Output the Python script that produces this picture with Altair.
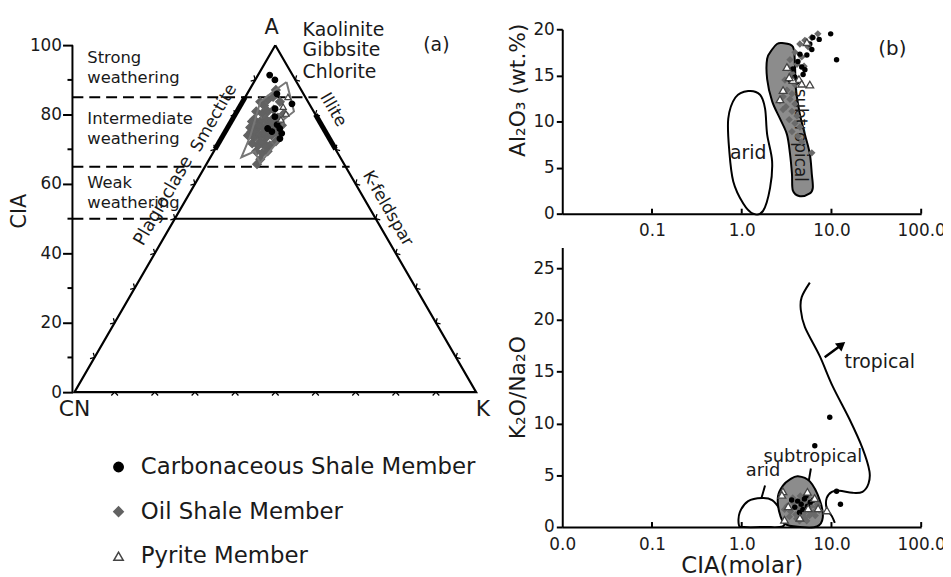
import altair as alt
import pandas as pd

FONT = "DejaVu Sans"
INK = "#1a1a1a"
OIL = "#626262"
OIL_R = "#6a6a6a"
TRI = "#444444"
FIELD = "#8c8c8c"
MEMBERS = ["Carbonaceous Shale Member", "Oil Shale Member", "Pyrite Member"]

# ---------------- (a) A-CN-K diagram : CIA (= A %) and K (%) ----------------
carb_cia = [91.4, 90.0, 86.0, 83.1, 81.7, 79.4, 77.1, 76.0, 76.0, 74.6, 73.1, 75.1]
carb_k = [2.9, 4.9, 7.4, 12.6, 9.1, 10.2, 11.9, 10.1, 13.1, 14.3, 14.6, 11.6]
oil_cia = [83.7, 82.6, 84.3, 85.1, 80.9, 80.3, 80.9, 81.4, 78.6, 78.0, 78.6, 78.0, 79.1,
           76.3, 75.7, 76.3, 75.7, 76.3, 74.0, 73.4, 74.0, 73.4, 74.0, 74.6, 71.7, 71.1,
           71.7, 71.1, 72.3, 69.4, 68.9, 69.4, 67.1, 65.7, 76.9, 80.3, 83.7, 87.1, 75.1,
           70.9, 76.9, 74.6, 77.4, 75.1, 72.3, 79.1, 76.9, 78.0]
oil_k = [4.4, 5.9, 6.0, 6.9, 4.8, 6.6, 7.7, 8.9, 5.4, 7.2, 8.4, 10.1, 11.1,
         5.6, 7.4, 8.6, 10.3, 11.5, 6.2, 8.0, 9.2, 11.0, 12.1, 13.3, 8.4, 10.2,
         11.4, 13.1, 14.0, 10.5, 12.3, 13.4, 12.7, 12.6, 13.2, 12.0, 9.3, 6.6, 6.5,
         12.0, 7.3, 9.9, 9.9, 7.2, 10.1, 10.1, 9.3, 5.2]
pyr_cia = [82.3, 80.3, 85.1, 78.6]
pyr_k = [10.8, 12.5, 10.6, 12.1]
env_cia = [89.4, 80.9, 78.6, 72.3, 69.4, 66.0, 69.4, 67.7, 73.7, 79.4, 83.7, 86.6, 89.4]
env_k = [8.1, 14.2, 12.8, 14.5, 13.9, 13.2, 10.2, 7.7, 6.9, 5.5, 4.4, 6.1, 8.1]
outline_cia = [100, 0, 0, 100]          # A -> CN -> K -> A
outline_k = [0, 0, 100, 0]
tick_levels = [10, 20, 30, 40, 50, 60, 70, 80, 90]
# weathering limits (CIA) and their horizontal extent (position along CN-K)
wl_cia = [85, 65, 50]
wl_from = [-0.5, -0.5, -0.5]
wl_to = [60.5, 68.5, 25.0]
solid_cia = [50]
solid_from = [25.0]
solid_to = [75.0]
# mineral segments: smectite on CN-A, illite on A-K
seg_cia1 = [70, 70]
seg_cia2 = [85, 80]
seg_k1 = [0, 30]
seg_k2 = [0, 20]
axis_minor = [10, 30, 50, 70, 90]

# ---------------- (b) upper: Al2O3 vs CIA(molar) ----------------
aridT_x = [1.18, 1.60, 1.82, 1.92, 2.18, 2.07, 1.73, 1.34, 1.04, 0.805, 0.727, 0.708, 0.85]
aridT_y = [13.3, 12.9, 11.4, 8.6, 5.7, 2.8, 0.3, 0.0, 1.1, 3.5, 6.8, 10.3, 12.6]
subT_x = [2.81, 3.72, 3.92, 4.02, 4.45, 5.06, 5.74, 6.04, 6.20, 5.74, 4.45, 3.72, 3.63,
          3.45, 3.19, 2.67, 2.18, 1.92, 1.92, 2.18, 2.47]
subT_y = [18.5, 18.1, 16.1, 13.5, 10.8, 8.6, 6.5, 4.3, 2.8, 2.2, 1.9, 2.5, 4.3,
          6.5, 8.6, 10.3, 12.2, 14.6, 16.8, 17.8, 18.4]
carbT_x = [9.8, 11.4, 6.20, 6.04, 5.32, 5.06, 4.83, 4.23, 4.45, 5.74, 3.92, 3.72, 4.66, 4.13, 3.45, 7.3]
carbT_y = [19.5, 16.7, 19.1, 17.8, 17.2, 15.6, 15.1, 16.5, 17.3, 18.4, 14.8, 15.7, 15.9, 14.3, 14.5, 18.9]
oilT_x = [7.05, 6.04, 5.06, 4.45, 5.5, 3.92, 4.66, 3.45, 4.13, 3.30, 4.95, 3.63, 3.03, 3.92, 3.19,
          3.63, 2.89, 3.45, 3.92, 3.11, 3.63, 4.13, 3.38, 3.92, 4.45, 3.63, 4.23, 4.66, 6.04, 2.67, 2.89]
oilT_y = [19.5, 19.1, 18.8, 18.4, 18.1, 17.5, 17.0, 16.7, 16.2, 15.8, 16.0, 15.2, 14.5, 14.0, 13.4,
          13.0, 12.7, 12.4, 11.9, 11.6, 11.1, 10.6, 10.2, 9.8, 9.4, 8.9, 8.4, 7.8, 6.6, 12.2, 11.3]
pyrT_x = [3.19, 5.74, 4.34, 3.72, 2.89, 2.67, 3.38, 5.32, 4.66]
pyrT_y = [15.9, 14.0, 14.6, 14.5, 13.4, 12.4, 14.8, 18.6, 14.1]

# ---------------- (b) lower: K2O/Na2O vs CIA(molar) ----------------
aridB_x = [0.93, 0.95, 1.18, 1.69, 2.18, 2.67, 3.0, 2.85, 1.8, 1.05]
aridB_y = [0.2, 1.4, 2.5, 2.8, 2.6, 1.7, 0.7, 0.05, 0.0, 0.0]
subB_x = [4.23, 5.74, 7.41, 8.0, 6.9, 4.45, 3.03, 2.61, 2.54, 2.88, 3.45]
subB_y = [4.9, 4.4, 2.6, 0.9, 0.05, 0.0, 0.3, 1.5, 3.0, 4.0, 4.6]
trop_x = [5.74, 4.66, 4.55, 5.06, 7.41, 10.3, 15.9, 22.2, 26.5, 25.9, 22.2, 17.2, 12.3, 10.1, 8.85, 8.85, 10.1, 10.9]
trop_y = [23.6, 22.2, 21.0, 19.3, 16.5, 13.6, 10.4, 7.6, 5.4, 4.2, 3.4, 3.3, 3.5, 3.4, 2.8, 1.8, 1.05, 0.4]
arrow_x = [8.41, 13.0]
arrow_y = [16.4, 17.6]
lead_x1 = [1.66, 5.6]
lead_y1 = [2.8, 4.5]
lead_x2 = [1.82, 5.9]
lead_y2 = [4.0, 5.65]
carbB_x = [9.57, 6.52, 11.4, 12.6, 4.2, 4.6, 5.0, 3.9, 5.4, 4.4, 5.8, 4.8, 3.6, 5.2, 6.3]
carbB_y = [10.6, 7.85, 3.45, 2.2, 2.5, 2.2, 2.7, 1.9, 2.0, 1.4, 2.4, 1.7, 2.6, 3.0, 2.6]
oilB_x = [3.2, 3.5, 3.8, 4.0, 4.3, 4.6, 4.9, 5.2, 5.5, 5.9, 6.3, 6.8, 7.3, 3.4, 4.1, 5.0, 5.7,
          6.1, 4.5, 3.7, 6.6, 7.0, 3.0, 4.8, 5.4, 5.3, 4.4]
oilB_y = [2.0, 1.5, 2.3, 1.2, 1.8, 2.6, 1.3, 2.2, 1.6, 2.0, 1.4, 1.9, 1.6, 1.0, 0.8, 0.9, 1.1,
          2.5, 3.0, 2.8, 1.1, 2.2, 1.7, 2.0, 2.9, 0.6, 0.6]
pyrB_x = [2.88, 5.4, 6.5, 3.30, 5.5, 8.9, 3.0, 4.45, 7.1, 2.8]
pyrB_y = [3.45, 3.4, 2.8, 2.0, 1.8, 1.6, 0.7, 0.9, 1.8, 3.1]
x_ticks = [0.1, 1, 10, 100]


# ======================= panel (a) =======================
def tern(cia, k, **extra):
    df = pd.DataFrame({"cia": cia, "k": k, **extra})
    df["tx"] = df["k"] + df["cia"] / 2.0
    return df


LX = alt.Scale(domain=[-0.5, 104.9], nice=False, zero=False)
LY = alt.Scale(domain=[0, 104.6], nice=False, zero=False)
ya_axis = alt.Axis(title="CIA", values=[0, 20, 40, 60, 80, 100], tickSize=10, tickWidth=2,
                   labelPadding=1, labelFontSize=17, titleFontSize=21, titlePadding=0,
                   domain=False, grid=False)


def ax(f):
    return alt.X(f"{f}:Q", scale=LX, axis=None)


def ay(f):
    return alt.Y(f"{f}:Q", scale=LY, axis=ya_axis)


axis_line = alt.Chart(pd.DataFrame({"lo": [0], "hi": [100]})).mark_rule(
    color="black", strokeWidth=2).encode(x=alt.value(0), y=ay("lo"), y2=alt.Y2("hi"))
minor = alt.Chart(pd.DataFrame({"m": axis_minor})).mark_rule(
    color="black", strokeWidth=2).encode(x=alt.value(-5), x2=alt.value(0), y=ay("m"))
dashed = alt.Chart(pd.DataFrame({"cia": wl_cia, "x1": wl_from, "x2": wl_to})).mark_rule(
    color="black", strokeWidth=2, strokeDash=[11, 6]).encode(x=ax("x1"), x2=alt.X2("x2"), y=ay("cia"))
solid = alt.Chart(pd.DataFrame({"cia": solid_cia, "x1": solid_from, "x2": solid_to})).mark_rule(
    color="black", strokeWidth=2).encode(x=ax("x1"), x2=alt.X2("x2"), y=ay("cia"))
tri_df = tern(outline_cia, outline_k, i=list(range(4)))
triangle = alt.Chart(tri_df).mark_line(color="black", strokeWidth=2.2, strokeJoin="miter").encode(
    x=ax("tx"), y=ay("cia"), order="i:Q")
seg_df = pd.DataFrame({"c1": seg_cia1, "c2": seg_cia2, "k1": seg_k1, "k2": seg_k2})
seg_df["t1"] = seg_df["k1"] + seg_df["c1"] / 2.0
seg_df["t2"] = seg_df["k2"] + seg_df["c2"] / 2.0
segments = alt.Chart(seg_df).mark_rule(color="black", strokeWidth=5).encode(
    x=ax("t1"), x2=alt.X2("t2"), y=ay("c1"), y2=alt.Y2("c2"))
tk = pd.concat([
    tern([0] * 9, tick_levels, ang=[0] * 9),
    tern(tick_levels, [0] * 9, ang=[120] * 9),
    tern(tick_levels, [100 - v for v in tick_levels], ang=[240] * 9),
])
side_ticks = alt.Chart(tk).mark_point(shape="M-1,1L0,0L1,1", size=45, filled=False, color="black",
                                      strokeWidth=1.3, opacity=1).encode(
    x=ax("tx"), y=ay("cia"), angle=alt.Angle("ang:Q", scale=None))

leg = alt.Legend(title=None, orient="none", legendX=35, legendY=430, labelFontSize=23,
                 labelFont=FONT, labelColor=INK, symbolSize=90, symbolStrokeWidth=1.5,
                 labelOffset=11, rowPadding=21, symbolOpacity=1, labelLimit=0)
enc_pts = dict(
    shape=alt.Shape("member:N", scale=alt.Scale(domain=MEMBERS, range=["circle", "diamond", "triangle-up"]), legend=leg),
    fill=alt.Fill("member:N", scale=alt.Scale(domain=MEMBERS, range=["black", OIL, "white"]), legend=leg),
    stroke=alt.Stroke("member:N", scale=alt.Scale(domain=MEMBERS, range=["black", OIL, TRI]), legend=leg),
)


def members(cia, k, name, size):
    return alt.Chart(tern(cia, k, member=[name] * len(cia))).mark_point(
        size=size, opacity=1, strokeWidth=1.2).encode(x=ax("tx"), y=ay("cia"), **enc_pts)


oil_pts = members(oil_cia, oil_k, MEMBERS[1], 75)
carb_pts = members(carb_cia, carb_k, MEMBERS[0], 32)
pyr_pts = members(pyr_cia, pyr_k, MEMBERS[2], 40)
env_df = tern(env_cia, env_k, i=list(range(len(env_cia))))
envelope = alt.Chart(env_df).mark_line(color="#777777", strokeWidth=2).encode(
    x=ax("tx"), y=ay("cia"), order="i:Q")


def txt(labels, xs, ys, xf, yf, size, align="center", angle=0):
    df = pd.DataFrame({"t": labels, "x": xs, "y": ys})
    return alt.Chart(df).mark_text(fontSize=size, align=align, baseline="middle", angle=angle,
                                   font=FONT, color=INK).encode(x=xf("x"), y=yf("y"), text="t:N")


a_txt = [
    txt(["A"], [49.1], [104.9], ax, ay, 21),
    txt(["Kaolinite", "Gibbsite", "Chlorite"], [56.8] * 3, [104.3, 98.6, 92.3], ax, ay, 19, "left"),
    txt(["(a)"], [90.1], [100.0], ax, ay, 19),
    txt(["Strong", "weathering", "Intermediate", "weathering", "Weak", "weathering"], [3.2] * 6,
        [96.3, 90.6, 78.6, 72.9, 60.3, 54.6], ax, ay, 16.5, "left"),
    txt(["CN", "K"], [0.0, 101.7], [-4.9, -4.9], ax, ay, 22),
    txt(["Plagioclase"], [22.2], [55.1], ax, ay, 18, angle=300),
    txt(["Smectite"], [34.7], [79.0], ax, ay, 17, angle=300),
    txt(["Illite", "K-feldspar"], [64.4, 78.0], [81.4, 52.9], ax, ay, 17, angle=60),
]

panel_a = alt.layer(axis_line, minor, dashed, solid, triangle, segments, side_ticks,
                    oil_pts, envelope, carb_pts, pyr_pts, *a_txt).properties(width=427, height=366)

# ======================= panel (b) =======================
XS = alt.Scale(type="log", domain=[0.01, 100], nice=False)
xb_top = alt.Axis(title=None, values=x_ticks, ticks=False, labelExpr="format(datum.value, '.1f')",
                  labelFlush=False, labelOverlap=False, labelPadding=9, labelFontSize=17, grid=False)
xb_bot = alt.Axis(title="CIA(molar)", values=[0.01] + x_ticks, ticks=False,
                  labelExpr="datum.value < 0.05 ? '0.0' : format(datum.value, '.1f')",
                  labelFlush=False, labelOverlap=False, labelPadding=10, labelFontSize=17,
                  titleFontSize=23, titlePadding=2, grid=False)
YT = alt.Scale(domain=[0, 20], nice=False)
YB = alt.Scale(domain=[0, 27], nice=False)
yt_axis = alt.Axis(title="Al₂O₃ (wt.%)", values=[0, 5, 10, 15, 20], tickSize=6, labelPadding=2,
                   labelFontSize=17, titleFontSize=22, titlePadding=3, titleY=61, grid=False)
yb_axis = alt.Axis(title="K₂O/Na₂O", values=[0, 5, 10, 15, 20, 25], tickSize=6, labelPadding=2,
                   labelFontSize=17, titleFontSize=22, titlePadding=3, grid=False)


def mk(xaxis, yscale, yaxis):
    def fx(f):
        return alt.X(f"{f}:Q", scale=XS, axis=xaxis)

    def fy(f):
        return alt.Y(f"{f}:Q", scale=yscale, axis=yaxis)
    return fx, fy


tx_, ty_ = mk(xb_top, YT, yt_axis)
bx_, by_ = mk(xb_bot, YB, yb_axis)


def poly(xs, ys, fx, fy, fill):
    df = pd.DataFrame({"x": xs, "y": ys, "i": list(range(len(xs)))})
    return alt.Chart(df).mark_line(interpolate="cardinal-closed", fill=fill, stroke="black",
                                   strokeWidth=2).encode(x=fx("x"), y=fy("y"), order="i:Q")


def pts(xs, ys, fx, fy, kind):
    df = pd.DataFrame({"x": xs, "y": ys})
    if kind == "carb":
        m = alt.Chart(df).mark_point(shape="circle", filled=True, color="black", size=30, opacity=1)
    elif kind == "oil":
        m = alt.Chart(df).mark_point(shape="diamond", filled=True, color=OIL_R, size=55, opacity=1)
    else:
        m = alt.Chart(df).mark_point(shape="triangle-up", fill="white", stroke=TRI, strokeWidth=1.3,
                                     size=60, opacity=1)
    return m.encode(x=fx("x"), y=fy("y"))


def inner_ticks(fx, h):
    return alt.Chart(pd.DataFrame({"v": x_ticks})).mark_rule(color="black", strokeWidth=2).encode(
        x=fx("v"), y=alt.value(h), y2=alt.value(h - 5))


top = alt.layer(
    poly(aridT_x, aridT_y, tx_, ty_, "white"),
    poly(subT_x, subT_y, tx_, ty_, FIELD),
    txt(["subtropical"], [4.45], [8.5], tx_, ty_, 17, angle=90),
    txt(["arid"], [1.18], [6.6], tx_, ty_, 19),
    pts(oilT_x, oilT_y, tx_, ty_, "oil"),
    pts(carbT_x, carbT_y, tx_, ty_, "carb"),
    pts(pyrT_x, pyrT_y, tx_, ty_, "pyr"),
    txt(["(b)"], [47.7], [17.8], tx_, ty_, 20),
    inner_ticks(tx_, 186),
).properties(width=362, height=186)

lead_df = pd.DataFrame({"x1": lead_x1, "y1": lead_y1, "x2": lead_x2, "y2": lead_y2})
trop_df = pd.DataFrame({"x": trop_x, "y": trop_y, "i": list(range(len(trop_x)))})
arrow_df = pd.DataFrame({"x": arrow_x, "y": arrow_y})
bottom = alt.layer(
    poly(aridB_x, aridB_y, bx_, by_, "white"),
    poly(subB_x, subB_y, bx_, by_, FIELD),
    alt.Chart(lead_df).mark_rule(color="black", strokeWidth=2).encode(
        x=bx_("x1"), x2=alt.X2("x2"), y=by_("y1"), y2=alt.Y2("y2")),
    alt.Chart(trop_df).mark_line(interpolate="cardinal", color="black", strokeWidth=2).encode(
        x=bx_("x"), y=by_("y"), order="i:Q"),
    alt.Chart(arrow_df).mark_line(color="black", strokeWidth=2.5).encode(x=bx_("x"), y=by_("y")),
    alt.Chart(arrow_df.tail(1)).mark_point(shape="triangle-up", filled=True, color="black", size=110,
                                           opacity=1, angle=51).encode(x=bx_("x"), y=by_("y")),
    pts(oilB_x, oilB_y, bx_, by_, "oil"),
    pts(carbB_x, carbB_y, bx_, by_, "carb"),
    pts(pyrB_x, pyrB_y, bx_, by_, "pyr"),
    txt(["arid", "subtropical"], [1.73, 6.2], [5.4, 6.8], bx_, by_, 18),
    txt(["tropical"], [14.0], [15.9], bx_, by_, 19, "left"),
    inner_ticks(bx_, 282),
).properties(width=362, height=282)

right = alt.vconcat(top, bottom, spacing=34, bounds="flush")

chart = alt.hconcat(panel_a, right, spacing=67, bounds="flush").resolve_scale(
    shape="independent", fill="independent", stroke="independent"
).properties(
    autosize=alt.AutoSizeParams(type="none"),
    padding={"left": 65, "top": 19, "right": 878, "bottom": 550}
).configure_view(stroke=None).configure_axis(
    labelFont=FONT, titleFont=FONT, labelColor=INK, titleColor=INK, domainColor="black",
    tickColor="black", domainWidth=2, tickWidth=2, titleFontWeight="normal"
).configure_text(font=FONT)

chart.save("out.html", embed_options={"renderer": "svg", "actions": False})
